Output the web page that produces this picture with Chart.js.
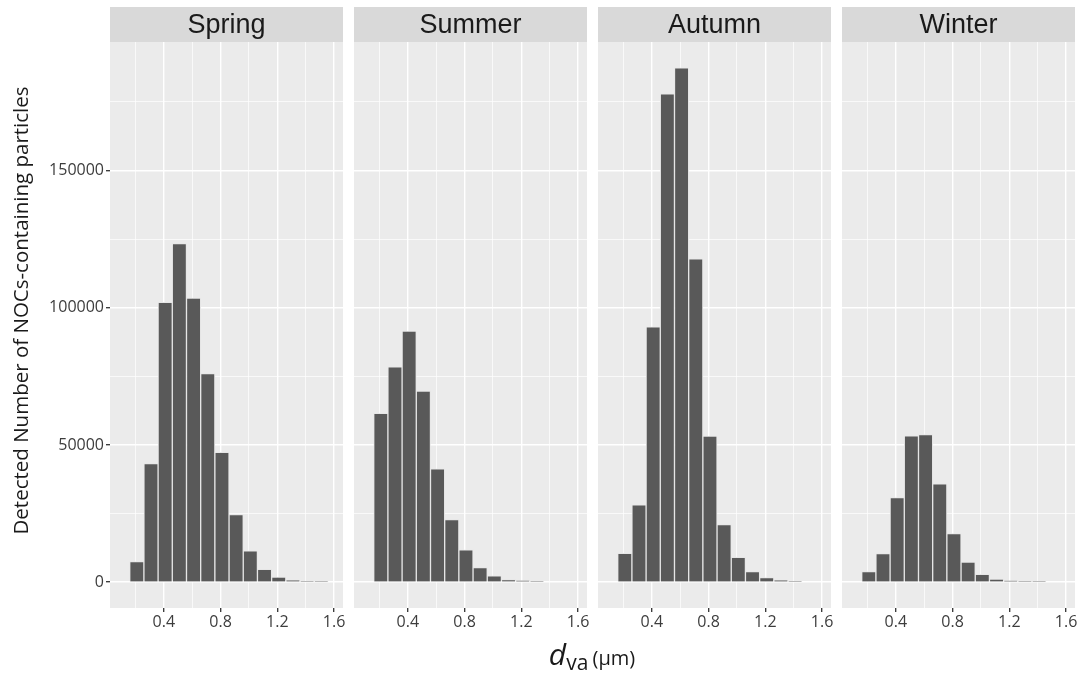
<!DOCTYPE html>
<html>
<head>
<meta charset="utf-8">
<script src="https://cdn.jsdelivr.net/npm/chart.js@4.4.1/dist/chart.umd.min.js"></script>
<style>
  html, body { margin: 0; padding: 0; background: #ffffff; }
  body { width: 1082px; height: 681px; position: relative; overflow: hidden; }
  canvas { position: absolute; top: 0; }
  #xtitle {
    position: absolute; left: 392px; width: 400px; top: 633px; text-align: center;
    font-family: "Open Sans", "Noto Sans", sans-serif; color: #1a1a1a; white-space: nowrap;
  }
  #xtitle .d { font-style: italic; font-size: 30px; }
  #xtitle .sub { font-size: 21px; position: relative; top: 5px; }
  #xtitle .unit { font-size: 20px; }
</style>
</head>
<body>
<canvas id="c0" width="349" height="640" style="left:0px"></canvas>
<canvas id="c1" width="239" height="640" style="left:354px"></canvas>
<canvas id="c2" width="239" height="640" style="left:598px"></canvas>
<canvas id="c3" width="239" height="640" style="left:842px"></canvas>
<div id="xtitle"><span class="d">d</span><span class="sub">va</span> <span class="unit">(μm)</span></div>
<script>
// ---------------- data ----------------
const facets = ["Spring", "Summer", "Autumn", "Winter"];
const binCenters = [0.21, 0.31, 0.41, 0.51, 0.61, 0.71, 0.81, 0.91, 1.01, 1.11, 1.21, 1.31, 1.41, 1.51];
const spring = [7500, 43200, 102000, 123400, 103500, 76000, 47300, 24600, 11400, 4700, 1900, 700, 350, 100];
const summer = [61500, 78500, 91500, 69600, 41300, 22800, 11800, 5300, 2300, 950, 580, 360];
const autumn = [10500, 28200, 93000, 177900, 187400, 117800, 53200, 21000, 9100, 3900, 1700, 700, 330];
const winter = [3900, 10400, 30800, 53300, 53800, 35800, 17700, 7300, 2900, 1100, 500, 200, 100];
const seriesList = [spring, summer, autumn, winter];

const xTicks = [0.2, 0.4, 0.6, 0.8, 1.0, 1.2, 1.4, 1.6];
const xTickLabels = ["", "0.4", "", "0.8", "", "1.2", "", "1.6"];
const yTicks = [0, 25000, 50000, 75000, 100000, 125000, 150000, 175000];
const yTickLabels = ["0", "", "50000", "", "100000", "", "150000", ""];
const yTitle = "Detected Number of NOCs-containing particles";

const X_MIN = 0.021, X_MAX = 1.663;
const Y_MIN = -9400, Y_MAX = 196800;

// ---------------- styling ----------------
const STRIP_TOP = 7;
const PANEL_TOP = 42;
const CANVAS_H = 640;
const PANEL_BOTTOM = 608;
const TICK_FONT = { family: '"Open Sans", "Noto Sans", sans-serif', size: 16 };
const TICK_COLOR = '#3d3d3d';

const facetPlugin = {
  id: 'facet',
  beforeDraw(chart, args, opts) {
    const { ctx, chartArea: a } = chart;
    ctx.save();
    ctx.fillStyle = '#EBEBEB';
    ctx.fillRect(a.left, a.top, a.right - a.left, a.bottom - a.top);
    ctx.fillStyle = '#D9D9D9';
    ctx.fillRect(a.left, STRIP_TOP, a.right - a.left, a.top - STRIP_TOP);
    ctx.fillStyle = '#1A1A1A';
    ctx.font = '27px "Liberation Sans", Arial, sans-serif';
    ctx.textAlign = 'center';
    ctx.textBaseline = 'middle';
    ctx.fillText(opts.label, (a.left + a.right) / 2, (STRIP_TOP + a.top) / 2 + 1);
    if (opts.yTitle) {
      ctx.translate(22, (STRIP_TOP + a.bottom) / 2 + 3);
      ctx.rotate(-Math.PI / 2);
      ctx.font = '20.5px "Open Sans", "Noto Sans", sans-serif';
      ctx.fillStyle = '#1A1A1A';
      ctx.fillText(opts.yTitle, 0, 0);
    }
    ctx.restore();
  }
};

function makeChart(idx) {
  const first = idx === 0;
  const values = seriesList[idx];
  const pts = values.map((v, i) => ({ x: binCenters[i], y: v }));
  return new Chart(document.getElementById('c' + idx), {
    type: 'bar',
    data: {
      datasets: [{
        data: pts,
        backgroundColor: '#595959',
        borderColor: '#E6E6E6',
        borderWidth: 1,
        borderSkipped: 'bottom',
        barPercentage: 1.0,
        categoryPercentage: 1.0
      }]
    },
    plugins: [facetPlugin],
    options: {
      responsive: false,
      maintainAspectRatio: false,
      animation: false,
      events: [],
      layout: { padding: { top: PANEL_TOP, right: 6, left: 0, bottom: 0 } },
      plugins: {
        legend: { display: false },
        tooltip: { enabled: false },
        title: { display: false },
        facet: { label: facets[idx], yTitle: first ? yTitle : null }
      },
      scales: {
        x: {
          type: 'linear',
          min: X_MIN, max: X_MAX,
          offset: false,
          afterBuildTicks: s => { s.ticks = xTicks.map(v => ({ value: v })); },
          afterFit: s => { s.height = CANVAS_H - PANEL_BOTTOM; s.paddingLeft = 0; s.paddingRight = 0; },
          ticks: {
            autoSkip: false, maxRotation: 0, minRotation: 0,
            padding: 1,
            color: TICK_COLOR, font: TICK_FONT,
            callback: (v, i) => xTickLabels[i]
          },
          grid: {
            offset: false,
            drawTicks: true,
            tickLength: 4,
            color: '#FFFFFF',
            lineWidth: c => (xTickLabels[c.index] ? 1.4 : 0.7),
            tickColor: c => (xTickLabels[c.index] ? '#333333' : 'rgba(0,0,0,0)'),
            tickWidth: 1.3
          },
          border: { display: false }
        },
        y: {
          type: 'linear',
          min: Y_MIN, max: Y_MAX,
          afterBuildTicks: s => { s.ticks = yTicks.map(v => ({ value: v })); },
          afterFit: s => { s.width = first ? 110 : 0; s.paddingTop = 0; s.paddingBottom = 0; },
          ticks: {
            display: first,
            autoSkip: false,
            padding: 2,
            color: TICK_COLOR, font: TICK_FONT,
            callback: (v, i) => yTickLabels[i]
          },
          grid: {
            drawTicks: first,
            tickLength: 4,
            color: '#FFFFFF',
            lineWidth: c => (yTickLabels[c.index] ? 1.4 : 0.7),
            tickColor: c => (yTickLabels[c.index] ? '#333333' : 'rgba(0,0,0,0)'),
            tickWidth: 1.3
          },
          border: { display: false },
          title: { display: false }
        }
      }
    }
  });
}

for (let i = 0; i < 4; i++) makeChart(i);
</script>
</body>
</html>
